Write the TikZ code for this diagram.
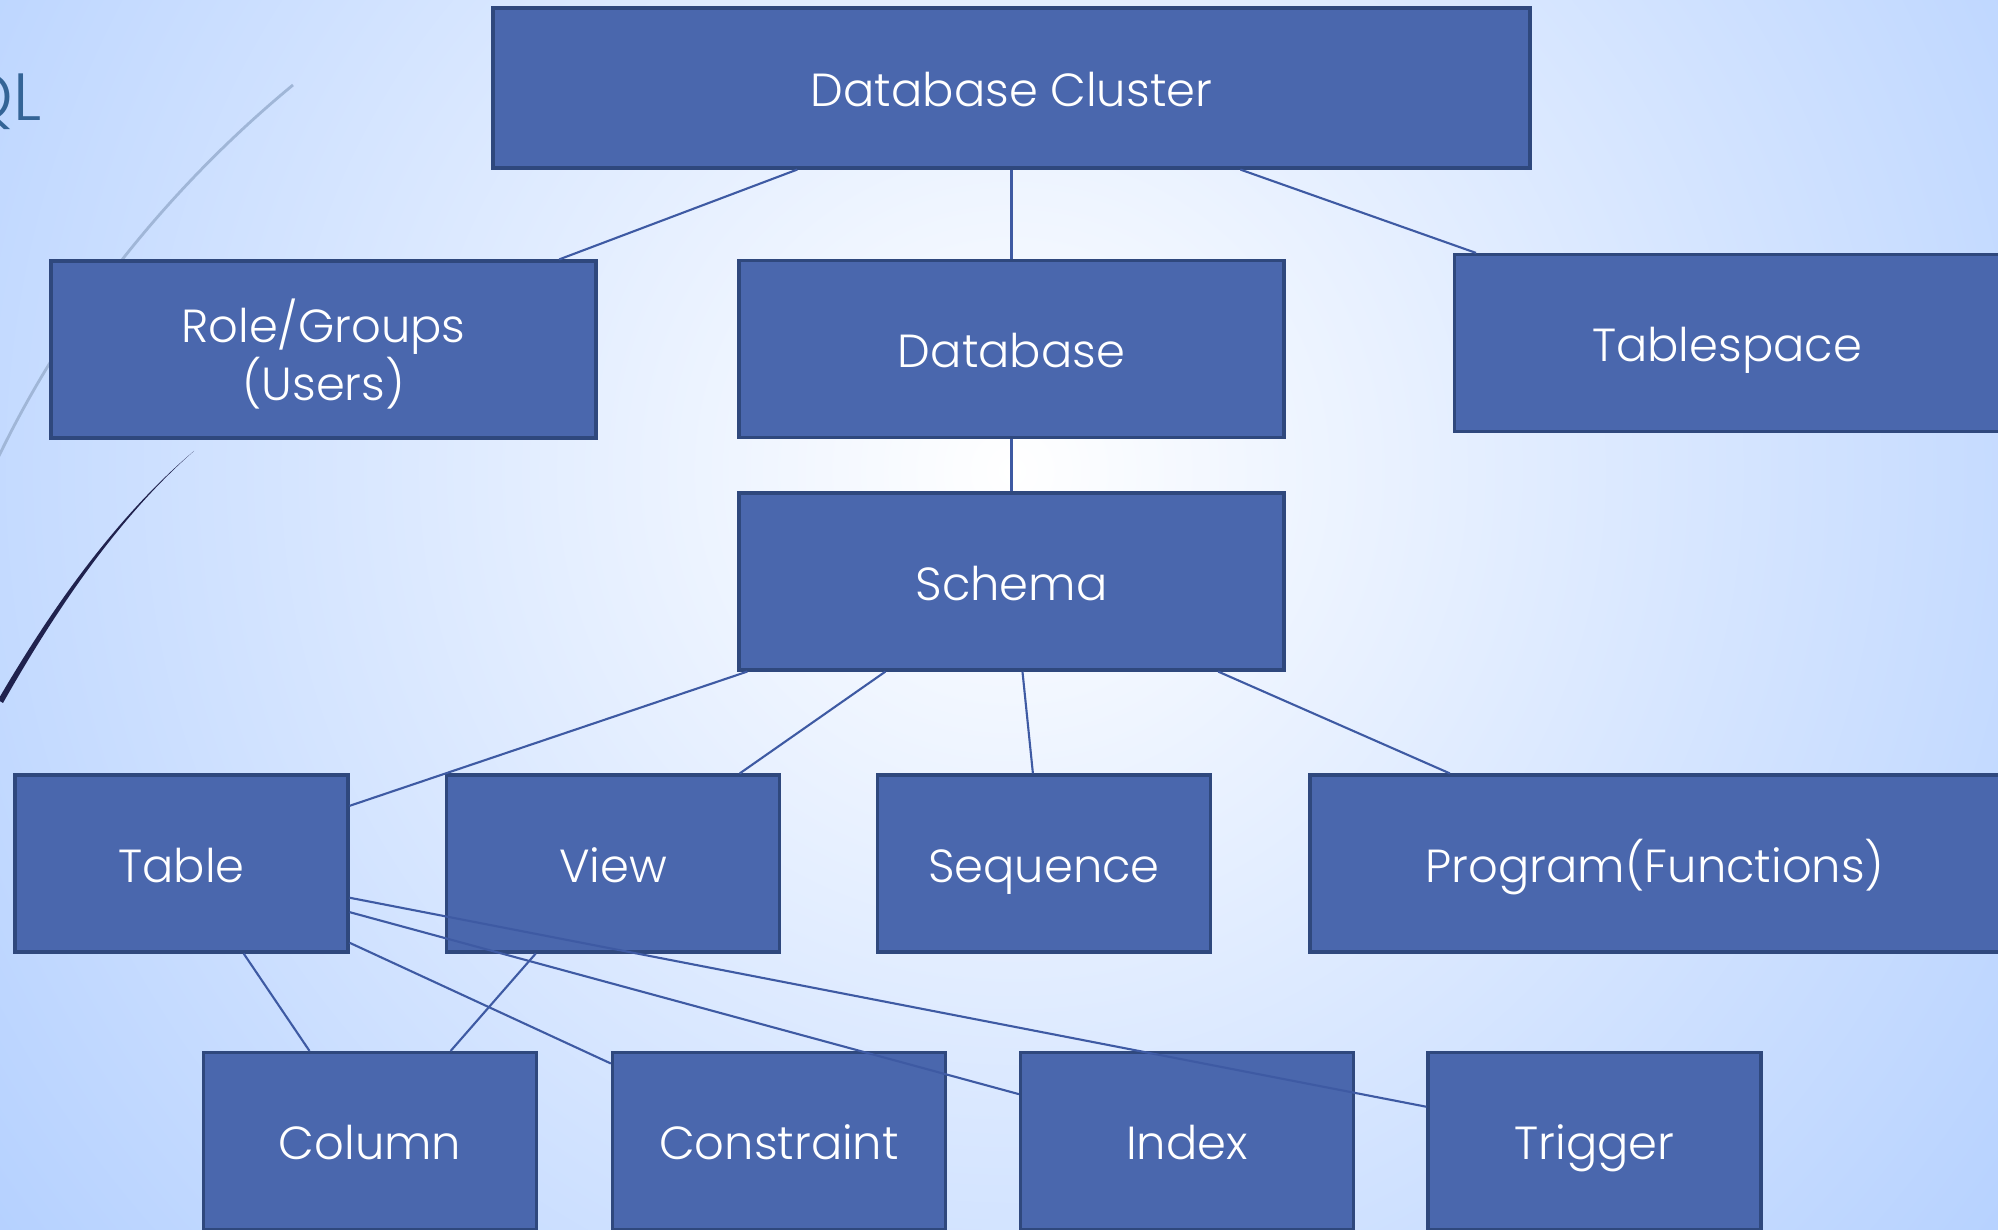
\documentclass[tikz,border=0pt]{standalone}
\usepackage{fontspec}
\setmainfont{Poppins Light}
\usetikzlibrary{calc}

\definecolor{bgblue}{RGB}{162,197,255}
\definecolor{boxfill}{RGB}{74,103,173}
\definecolor{boxline}{RGB}{47,72,125}
\definecolor{linkblue}{RGB}{62,90,163}
\definecolor{titleblue}{RGB}{52,100,150}
\definecolor{arcnavy}{RGB}{32,34,78}
\definecolor{arcgray}{RGB}{160,182,215}

\begin{document}
\begin{tikzpicture}[
  box/.style={draw=boxline, line width=0.9pt, fill=boxfill, text=white,
    minimum width=5.45cm, minimum height=1.77cm, inner sep=0pt, align=center,
    text height=2.3ex, text depth=0.35ex,
    font=\fontsize{13.2}{16.5}\selectfont},
  twoline/.style={box, text height=34pt, text depth=0.9ex},
  smallbox/.style={box, minimum width=3.33cm},
  link/.style={draw=linkblue, line width=0.6pt}]
  \useasboundingbox (0,0) rectangle (19.98,12.30);
  \clip (0,0) rectangle (19.98,12.30);

  % Background
  \shade[inner color=white, outer color=bgblue] (10.12,7.59) circle (16);

  % Slide decoration (title remnant and arcs)
  \node[anchor=base east, text=titleblue, inner sep=0pt,
    font=\fontsize{19}{22}\selectfont] (title) at (0.42,11.09) {QL};
  \draw[arcgray, line width=0.8pt] (2.93,11.45) .. controls (1.9,10.6) and (0.7,9.3) .. (-0.1,7.55);
  \fill[arcnavy] (1.94,7.79) .. controls (1.3,7.25) and (0.65,6.45) .. (-0.02,5.30)
    -- (0.03,5.27) .. controls (0.68,6.42) and (1.31,7.24) .. cycle;

  % Top levels
  \node[box, minimum width=10.37cm, minimum height=1.6cm] (cluster) at (10.115,11.42) {Database Cluster};
  \node[twoline] (roles) at (3.235,8.805) {Role/Groups\\(Users)};
  \node[box] (database) at (10.115,8.81) {Database};
  \node[box] (tblspace) at (17.27,8.87) {Tablespace};
  \node[box] (schema) at (10.115,6.485) {Schema};

  % Schema objects
  \node[smallbox] (table) at (1.815,3.665) {Table};
  \node[smallbox] (view) at (6.13,3.665) {View};
  \node[smallbox] (sequence) at (10.44,3.665) {Sequence};
  \node[box, minimum width=6.9cm] (program) at (16.55,3.665) {Program(Functions)};

  % Table objects
  \node[smallbox] (column) at (3.70,0.89) {Column};
  \node[smallbox] (constraint) at (7.79,0.89) {Constraint};
  \node[smallbox] (index) at (11.87,0.89) {Index};
  \node[smallbox] (trigger) at (15.945,0.89) {Trigger};

  % Connectors
  \draw[link] ($(cluster.south west)!0.294!(cluster.south east)$) -- ($(roles.north west)!0.93!(roles.north east)$);
  \draw[link] (cluster.south) -- (database.north);
  \draw[link] ($(cluster.south west)!0.72!(cluster.south east)$) -- ($(tblspace.north west)!0.042!(tblspace.north east)$);
  \draw[link] (database.south) -- (schema.north);

  \draw[link] ($(schema.south west)!0.018!(schema.south east)$) -- ($(table.north east)!0.18!(table.south east)$);
  \draw[link] ($(schema.south west)!0.27!(schema.south east)$) -- ($(view.north west)!0.877!(view.north east)$);
  \draw[link] ($(schema.south west)!0.52!(schema.south east)$) -- ($(sequence.north west)!0.467!(sequence.north east)$);
  \draw[link] ($(schema.south west)!0.877!(schema.south east)$) -- ($(program.north west)!0.204!(program.north east)$);

  \draw[link] ($(table.south west)!0.685!(table.south east)$) -- ($(column.north west)!0.32!(column.north east)$);
  \draw[link] ($(view.south west)!0.27!(view.south east)$) -- ($(column.north west)!0.74!(column.north east)$);
  \draw[link] ($(table.north east)!0.94!(table.south east)$) -- ($(constraint.north west)!0.07!(constraint.south west)$);
  \draw[link] ($(table.north east)!0.77!(table.south east)$) -- ($(index.north west)!0.24!(index.south west)$);
  \draw[link] ($(table.north east)!0.69!(table.south east)$) -- ($(trigger.north west)!0.31!(trigger.south west)$);
\end{tikzpicture}
\end{document}
